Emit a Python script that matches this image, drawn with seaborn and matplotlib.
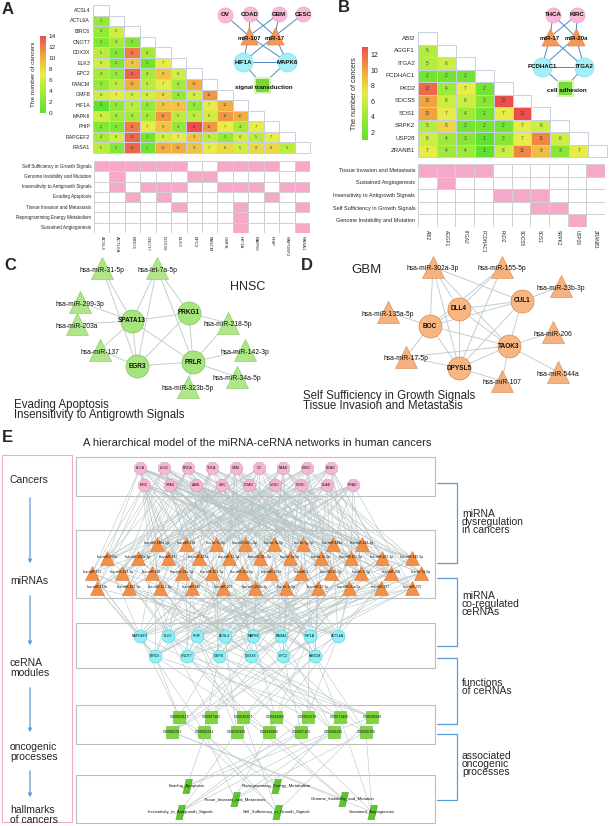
import numpy as np
import pandas as pd
import matplotlib
matplotlib.use("Agg")
import matplotlib.pyplot as plt
import seaborn as sns
from matplotlib.colors import LinearSegmentedColormap, ListedColormap
from matplotlib.patches import Rectangle, FancyArrowPatch
from matplotlib.collections import LineCollection

sns.set_theme(style="white")
plt.rcParams["font.family"] = ["Liberation Sans", "DejaVu Sans"]

W, H = 610, 826

# ---------------- data: panel A ----------------
genes_a = ["ACSL4", "ACTL6A", "BIRC6", "CNOT7", "DDX3X", "ELK3", "EPC2",
           "FANCM", "GMFB", "HIF1A", "MAPK6", "PHIP", "RAPGEF2", "RASA1"]
counts_a = [
    [],
    [3],
    [3, 6],
    [2, 4, 2],
    [5, 2, 12, 4],
    [6, 2, 9, 1, 7],
    [4, 3, 13, 4, 9, 6],
    [3, 5, 10, 5, 7, 4, 10],
    [6, 7, 6, 6, 8, 3, 6, 11],
    [0, 3, 5, 3, 9, 9, 3, 7, 10],
    [6, 4, 4, 4, 11, 5, 5, 6, 11, 10],
    [2, 2, 12, 7, 9, 3, 14, 11, 7, 4, 7],
    [4, 6, 13, 1, 6, 7, 9, 5, 3, 6, 5, 7],
    [5, 2, 13, 1, 10, 10, 9, 7, 8, 6, 8, 8, 5],
]
hallmarks_a = ["Self Sufficiency in Growth Signals", "Genome Instability and Mutation",
               "Insensitivity to Antigrowth Signals", "Evading Apoptosis",
               "Tissue Invasion and Metastasis", "Reprogramming Energy Metabolism",
               "Sustained Angiogenesis"]
hallmark_genes_a = [
    ["ACSL4", "ACTL6A", "BIRC6", "CNOT7", "DDX3X", "ELK3", "GMFB", "HIF1A", "MAPK6", "PHIP", "RASA1"],
    ["ACTL6A", "EPC2", "FANCM"],
    ["ACTL6A", "CNOT7", "DDX3X", "ELK3", "GMFB", "HIF1A", "MAPK6", "RAPGEF2", "RASA1"],
    ["BIRC6", "DDX3X", "PHIP"],
    ["ELK3", "HIF1A", "RASA1"],
    ["HIF1A"],
    ["HIF1A", "RASA1"],
]

# ---------------- data: panel B ----------------
genes_b = ["ABI2", "AGGF1", "ITGA2", "PCDHAC1", "PKD2", "SOCS5", "SOS1", "SRPK2", "USP28", "ZRANB1"]
counts_b = [
    [],
    [5],
    [5, 6],
    [2, 2, 2],
    [12, 4, 7, 2],
    [10, 6, 6, 3, 13],
    [10, 7, 4, 2, 7, 13],
    [5, 8, 2, 2, 2, 7, 6],
    [6, 4, 3, 1, 3, 7, 11, 6],
    [7, 4, 4, 1, 6, 11, 9, 3, 7],
]
hallmarks_b = ["Tissue Invasion and Metastasis", "Sustained Angiogenesis",
               "Insensitivity to Antigrowth Signals", "Self Sufficiency in Growth Signals",
               "Genome Instability and Mutation"]
hallmark_genes_b = [
    ["ABI2", "AGGF1", "ITGA2", "PCDHAC1", "ZRANB1"],
    ["AGGF1"],
    ["PKD2", "SOCS5", "SOS1"],
    ["SOS1", "SRPK2"],
    ["USP28"],
]

# ---------------- small module networks (insets of A and B) ----------------
inset_a_cancers = ["OV", "COAD", "GBM", "CESC"]
inset_a_mirs = ["miR-107", "miR-17"]
inset_a_genes = ["HIF1A", "MAPK6"]
inset_a_proc = ["signal transduction"]
inset_a_edges = [("OV", "miR-107"), ("COAD", "miR-107"), ("COAD", "miR-17"), ("GBM", "miR-107"),
                 ("GBM", "miR-17"), ("CESC", "miR-17"), ("miR-107", "HIF1A"), ("miR-107", "MAPK6"),
                 ("miR-17", "HIF1A"), ("miR-17", "MAPK6"), ("HIF1A", "MAPK6"),
                 ("HIF1A", "signal transduction"), ("MAPK6", "signal transduction")]

inset_b_cancers = ["THCA", "KIRC"]
inset_b_mirs = ["miR-17", "miR-20a"]
inset_b_genes = ["PCDHAC1", "ITGA2"]
inset_b_proc = ["cell adhesion"]
inset_b_edges = [("THCA", "miR-17"), ("THCA", "miR-20a"), ("KIRC", "miR-17"), ("KIRC", "miR-20a"),
                 ("miR-17", "PCDHAC1"), ("miR-17", "ITGA2"), ("miR-20a", "PCDHAC1"),
                 ("miR-20a", "ITGA2"), ("PCDHAC1", "ITGA2"), ("PCDHAC1", "cell adhesion"),
                 ("ITGA2", "cell adhesion")]

# ---------------- panel C (HNSC) ----------------
c_genes = ["SPATA13", "PRKG1", "EGR3", "PRLR"]
c_mirs = ["hsa-miR-31-5p", "hsa-let-7a-5p", "hsa-miR-299-3p", "hsa-miR-203a", "hsa-miR-137",
          "hsa-miR-218-5p", "hsa-miR-142-3p", "hsa-miR-34a-5p", "hsa-miR-323b-5p"]
c_edges = [("hsa-miR-31-5p", "SPATA13"), ("hsa-miR-31-5p", "EGR3"), ("hsa-let-7a-5p", "SPATA13"),
           ("hsa-let-7a-5p", "PRKG1"), ("hsa-let-7a-5p", "EGR3"), ("hsa-let-7a-5p", "PRLR"),
           ("hsa-miR-299-3p", "SPATA13"), ("hsa-miR-203a", "SPATA13"), ("hsa-miR-137", "SPATA13"),
           ("hsa-miR-137", "EGR3"), ("hsa-miR-218-5p", "PRKG1"), ("hsa-miR-218-5p", "PRLR"),
           ("hsa-miR-142-3p", "PRLR"), ("hsa-miR-34a-5p", "PRLR"), ("hsa-miR-323b-5p", "PRLR"),
           ("SPATA13", "PRKG1"), ("SPATA13", "EGR3"), ("SPATA13", "PRLR"), ("EGR3", "PRLR"),
           ("EGR3", "PRKG1"), ("PRKG1", "PRLR")]

# ---------------- panel D (GBM) ----------------
d_genes = ["CUL1", "DLL4", "BOC", "TAOK3", "DPYSL5"]
d_mirs = ["hsa-miR-302a-3p", "hsa-miR-155-5p", "hsa-miR-23b-3p", "hsa-miR-135a-5p",
          "hsa-miR-206", "hsa-miR-17-5p", "hsa-miR-544a", "hsa-miR-107"]
d_edges = [("hsa-miR-302a-3p", "BOC"), ("hsa-miR-302a-3p", "DLL4"), ("hsa-miR-302a-3p", "DPYSL5"),
           ("hsa-miR-302a-3p", "TAOK3"), ("hsa-miR-302a-3p", "CUL1"), ("hsa-miR-155-5p", "DLL4"),
           ("hsa-miR-155-5p", "DPYSL5"), ("hsa-miR-155-5p", "BOC"), ("hsa-miR-23b-3p", "CUL1"),
           ("hsa-miR-135a-5p", "BOC"), ("hsa-miR-206", "TAOK3"), ("hsa-miR-17-5p", "BOC"),
           ("hsa-miR-17-5p", "DPYSL5"), ("hsa-miR-17-5p", "TAOK3"), ("hsa-miR-544a", "TAOK3"),
           ("hsa-miR-107", "DPYSL5"), ("hsa-miR-107", "TAOK3"),
           ("CUL1", "DLL4"), ("CUL1", "BOC"), ("CUL1", "TAOK3"), ("CUL1", "DPYSL5"),
           ("DLL4", "TAOK3"), ("DLL4", "DPYSL5"), ("BOC", "TAOK3"), ("BOC", "DPYSL5"),
           ("TAOK3", "DPYSL5"), ("DLL4", "BOC")]

# ---------------- panel E (hierarchical model) ----------------
cancers_e_r1 = ["BLCA", "LUSC", "BRCA", "THCA", "GBM", "OV", "PAAD", "HNSC", "READ"]
cancers_e_r2 = ["KIRC", "STAD", "LAML", "LIHC", "COAD", "UCEC", "CESC", "LUAD", "PRAD"]
mirs_e_r1 = ["hsa-miR-146a-5p", "hsa-miR-184", "hsa-let-7c-5p", "hsa-miR-200c-3p",
             "hsa-let-7b-5p", "hsa-let-7g-5p", "hsa-miR-449a", "hsa-miR-143-3p"]
mirs_e_r2 = ["hsa-miR-320a", "hsa-miR-200a-3p", "hsa-miR-137", "hsa-miR-422a", "hsa-miR-21-5p",
             "hsa-miR-34c-5p", "hsa-let-7a-5p", "hsa-let-7e-5p", "hsa-miR-155-5p",
             "hsa-miR-222-3p", "hsa-miR-145-5p"]
mirs_e_r3 = ["hsa-miR-421", "hsa-miR-124-3p", "hsa-miR-429", "hsa-miR-34a-5p", "hsa-miR-101-3p",
             "hsa-miR-30a-5p", "hsa-miR-203a", "hsa-miR-1", "hsa-miR-31-5p", "hsa-let-7f-5p",
             "hsa-miR-206", "hsa-let-7d-5p"]
mirs_e_r4 = ["hsa-miR-133b", "hsa-miR-182-5p", "hsa-miR-221-3p", "hsa-miR-346", "hsa-miR-107",
             "hsa-miR-200b-3p", "hsa-let-7i-5p", "hsa-miR-17-5p", "hsa-miR-20a-5p",
             "hsa-miR-217", "hsa-miR-375"]
cernas_e_r1 = ["RAPGEF2", "ELK3", "PHIP", "ACSL4", "MAPK6", "RASA1", "HIF1A", "ACTL6A"]
cernas_e_r2 = ["BIRC6", "CNOT7", "GMFB", "DDX3X", "EPC2", "FANCM"]
go_e_r1 = ["GO0001837", "GO0007165", "GO0030307", "GO0042060", "GO0001570", "GO0071456", "GO0030949"]
go_e_r2 = ["GO0006281", "GO0008284", "GO0030308", "GO0043066", "GO0007162", "GO0008285", "GO0045766"]
hallmarks_e = ["Evading_Apoptosis", "Reprogramming_Energy_Metabolism",
               "Tissue_Invasion_and_Metastasis", "Genome_Instability_and_Mutation",
               "Insensitivity_to_Antigrowth_Signals", "Self_Sufficiency_in_Growth_Signals",
               "Sustained_Angiogenesis"]

# links (indices into the row lists concatenated)
mir_to_cancer = [
    [0, 2, 5, 9, 13, 16, 7, 11], [1, 3, 7, 10, 15, 0, 12], [0, 4, 6, 11, 14, 17, 2, 9],
    [2, 5, 8, 12, 16, 1, 10], [1, 3, 6, 9, 13, 4, 15], [0, 4, 7, 10, 17, 2, 12],
    [2, 5, 8, 11, 15, 0, 13], [3, 6, 9, 14, 16, 1, 8],
    [0, 1, 10, 12, 5, 16], [2, 4, 11, 13, 17, 8], [3, 5, 9, 15, 0, 12], [1, 6, 8, 12, 16, 3],
    [0, 4, 7, 14, 10, 17], [2, 5, 10, 13, 17, 7], [3, 6, 8, 11, 15, 1], [1, 7, 9, 14, 16, 4],
    [0, 5, 12, 17, 8, 11], [2, 4, 8, 10, 13, 6], [3, 7, 11, 15, 0, 9],
    [0, 9, 12, 16, 5], [1, 2, 10, 14, 7], [4, 6, 11, 17, 0], [0, 3, 9, 13, 15],
    [2, 5, 7, 12, 17], [1, 4, 8, 14, 16], [3, 6, 10, 17, 12], [0, 5, 9, 11, 15],
    [2, 7, 13, 16, 4], [1, 4, 6, 12, 17], [3, 8, 10, 14, 0], [0, 5, 11, 15, 16],
    [1, 9, 12, 14, 6], [2, 4, 10, 16, 8], [0, 3, 7, 13, 11], [5, 6, 11, 15, 17],
    [1, 4, 8, 9, 14], [2, 3, 12, 14, 16], [0, 6, 10, 15, 4], [4, 7, 11, 13, 17],
    [1, 5, 8, 12, 15], [3, 6, 9, 16, 0], [2, 7, 14, 17, 10],
]
cerna_to_mir = [
    [0, 3, 8, 12, 19, 22, 27, 31, 35, 40, 15], [1, 5, 9, 14, 20, 24, 29, 33, 37, 11],
    [2, 6, 10, 16, 21, 25, 30, 34, 38, 41, 18], [4, 7, 11, 15, 23, 26, 28, 32, 36, 39, 9],
    [0, 2, 13, 17, 19, 23, 27, 30, 35, 38, 6], [1, 4, 8, 18, 22, 26, 31, 34, 40, 12],
    [3, 5, 10, 12, 20, 25, 28, 33, 36, 41, 17], [6, 7, 9, 14, 21, 24, 29, 32, 37, 39, 0],
    [0, 4, 11, 16, 19, 22, 26, 31, 36, 7], [1, 3, 12, 15, 20, 25, 30, 34, 38, 41],
    [2, 5, 8, 17, 23, 27, 29, 33, 39, 14], [6, 9, 13, 18, 21, 24, 28, 32, 35, 40],
    [7, 10, 14, 16, 19, 26, 30, 37, 41, 3], [0, 5, 11, 15, 22, 25, 29, 35, 38, 13],
]
go_to_cerna = [[0, 3, 8], [1, 5, 12], [2, 6, 9, 13], [4, 7, 10], [0, 6, 11], [3, 8, 13],
               [1, 2, 9], [5, 7, 11, 12], [0, 4, 10], [2, 3, 13], [6, 8, 9], [1, 7, 12],
               [4, 5, 11], [10, 12, 13]]
hall_to_go = [[1, 6, 11], [0, 5, 9], [3, 8, 12, 13], [2, 7, 10], [4, 9, 11, 12],
              [0, 2, 6, 8], [3, 5, 7, 13]]

# ---------------- layout (pixel coordinates of network nodes) ----------------
pos_inset_a = {"OV": (225, 15), "COAD": (250, 14), "GBM": (279, 14), "CESC": (303, 14),
               "miR-107": (249, 36), "miR-17": (275, 36), "HIF1A": (243, 62),
               "MAPK6": (287, 62), "signal transduction": (262, 85)}
pos_inset_b = {"THCA": (553, 15), "KIRC": (577, 15), "miR-17": (550, 37), "miR-20a": (576, 37),
               "PCDHAC1": (542, 67), "ITGA2": (584, 67), "cell adhesion": (565, 88)}
pos_c = {"SPATA13": (132, 321), "PRKG1": (189, 313), "EGR3": (137, 366), "PRLR": (193, 362),
         "hsa-miR-31-5p": (102, 268), "hsa-let-7a-5p": (157, 268), "hsa-miR-299-3p": (80, 302),
         "hsa-miR-203a": (77, 324), "hsa-miR-137": (100, 350), "hsa-miR-218-5p": (228, 323),
         "hsa-miR-142-3p": (245, 350), "hsa-miR-34a-5p": (237, 377),
         "hsa-miR-323b-5p": (188, 387)}
pos_d = {"CUL1": (522, 301), "DLL4": (459, 309), "BOC": (430, 326), "TAOK3": (509, 346),
         "DPYSL5": (459, 368), "hsa-miR-302a-3p": (433, 267), "hsa-miR-155-5p": (502, 267),
         "hsa-miR-23b-3p": (561, 286), "hsa-miR-135a-5p": (388, 312), "hsa-miR-206": (553, 332),
         "hsa-miR-17-5p": (406, 357), "hsa-miR-544a": (558, 372), "hsa-miR-107": (502, 381)}
pos_hall_e = [(187, 786), (276, 786), (235, 799), (343, 799), (180, 812), (277, 812), (372, 812)]


def rect(x0, y0, x1, y1):
    return [x0 / W, 1 - y1 / H, (x1 - x0) / W, (y1 - y0) / H]


def s_px(d):
    return (d * 0.72) ** 2


fig = plt.figure(figsize=(W / 100, H / 100), dpi=100)
fig.patch.set_facecolor("white")
ax0 = fig.add_axes([0, 0, 1, 1])
ax0.set_xlim(0, W)
ax0.set_ylim(H, 0)
ax0.axis("off")

cmap = LinearSegmentedColormap.from_list(
    "cnt", [(0, "#5fe22e"), (0.3, "#a9eb3c"), (0.5, "#e6ee48"), (0.72, "#f2ad3f"), (1, "#ee4d4d")])
pink = ListedColormap(["white", "#f6a8c9"])
grid_c = "#c7d0dc"


def tri_heatmap(genes, tri, r, cr, vmin, vmax, ticks, fs_lab, fs_num, fs_cb):
    n = len(genes)
    m = np.full((n, n), np.nan)
    for i, row in enumerate(tri):
        m[i, :len(row)] = row
    df = pd.DataFrame(m, index=genes, columns=genes)
    ax = fig.add_axes(r)
    ax.patch.set_alpha(0)
    cax = fig.add_axes(cr)
    sns.heatmap(df, ax=ax, cmap=cmap, vmin=vmin, vmax=vmax, annot=True, fmt=".0f",
                annot_kws={"fontsize": fs_num, "color": "#4a4a4a"}, linewidths=0,
                cbar_ax=cax, xticklabels=False, yticklabels=True)
    # cell borders only for the lower triangle and the empty diagonal
    for i in range(n):
        for j in range(i + 1):
            ax.add_patch(Rectangle((j, i), 1, 1, facecolor="white" if i == j else "none",
                                   edgecolor=grid_c, lw=0.7, clip_on=False))
    ax.set_yticklabels(genes, rotation=0, fontsize=fs_lab)
    ax.tick_params(length=0, pad=2)
    ax.set_xlabel("")
    ax.set_ylabel("")
    cb = ax.collections[0].colorbar
    cb.outline.set_visible(False)
    cb.set_ticks(list(ticks))
    cax.tick_params(labelsize=fs_cb, length=0, pad=2)
    cax.yaxis.set_label_position("left")
    cax.set_ylabel("The number of cancers", fontsize=fs_cb, labelpad=3)
    return ax


def hallmark_matrix(genes, names, members, r, fs_y, fs_x):
    m = np.array([[1 if g in mem else 0 for g in genes] for mem in members])
    df = pd.DataFrame(m, index=names, columns=genes)
    ax = fig.add_axes(r)
    sns.heatmap(df, ax=ax, cmap=pink, vmin=0, vmax=1, cbar=False, linewidths=0.6,
                linecolor="#d0d0d0", xticklabels=True, yticklabels=True)
    ax.set_yticklabels(names, rotation=0, fontsize=fs_y)
    ax.set_xticklabels(genes, rotation=270, fontsize=fs_x)
    ax.tick_params(length=0, pad=2)
    ax.set_xlabel("")
    ax.set_ylabel("")
    return ax


tri_heatmap(genes_a, counts_a, rect(93, 5, 310, 153), rect(40, 36, 46, 113), 0, 14,
            range(0, 15, 2), 3.8, 3.0, 4.6)
hallmark_matrix(genes_a, hallmarks_a, hallmark_genes_a, rect(94, 161, 310, 233), 3.3, 3.2)
tri_heatmap(genes_b, counts_b, rect(418, 32, 607, 157), rect(362, 47, 368, 140), 1, 13,
            range(2, 13, 2), 4.4, 3.4, 5.0)
hallmark_matrix(genes_b, hallmarks_b, hallmark_genes_b, rect(418, 164, 605, 227), 4.0, 3.4)


def draw_edges(pos, edges, color, lw, z=2):
    segs = [[pos[a], pos[b]] for a, b in edges]
    ax0.add_collection(LineCollection(segs, colors=color, linewidths=lw, zorder=z))


def draw_nodes(pos, names, size, marker, fc, ec, fs, weight="normal", dy=0, z=3):
    xs = [pos[n][0] for n in names]
    ys = [pos[n][1] for n in names]
    ax0.scatter(xs, ys, s=s_px(size), marker=marker, c=fc, edgecolors=ec, linewidths=0.5,
                zorder=z)
    for n, x, y in zip(names, xs, ys):
        ax0.text(x, y + dy, n, fontsize=fs, fontweight=weight, ha="center", va="center",
                 zorder=z + 1, color="#111111")


# ---- insets ----
for pos, edges, can, mirs, gen, proc in [
        (pos_inset_a, inset_a_edges, inset_a_cancers, inset_a_mirs, inset_a_genes, inset_a_proc),
        (pos_inset_b, inset_b_edges, inset_b_cancers, inset_b_mirs, inset_b_genes, inset_b_proc)]:
    draw_edges(pos, edges, "#4f86c6", 0.7)
    draw_nodes(pos, can, 15, "o", "#f7b9d6", "#f0a0c6", 4.4, "bold")
    draw_nodes(pos, mirs, 17, "^", "#f4985a", "#ee8440", 4.3, "bold", dy=2)
    draw_nodes(pos, gen, 19, "o", "#a4f0f6", "#7ddfeb", 4.4, "bold")
    px, py = pos[proc[0]]
    ax0.scatter([px], [py], s=s_px(17), marker="s", c="#d8f5b0", edgecolors="none", zorder=3)
    ax0.scatter([px], [py], s=s_px(12), marker="s", c="#7ad83a", edgecolors="#66c22a",
                linewidths=0.5, zorder=3)
    ax0.text(px + 2, py + 2, proc[0], fontsize=4.5, fontweight="bold", ha="center",
             va="center", zorder=4, color="#111111")

# ---- panel C ----
draw_edges(pos_c, c_edges, "#c3ced2", 0.7)
draw_nodes(pos_c, c_mirs, 22, "^", "#b0e68a", "#93cf6a", 4.9, dy=2)
draw_nodes(pos_c, c_genes, 23, "o", "#a6e57e", "#7fc457", 4.7, "bold")
ax0.text(248, 287, "HNSC", fontsize=9, ha="center", va="center")
ax0.text(14, 410, "Evading Apoptosis\nInsensitivity to Antigrowth Signals", fontsize=8.3,
         ha="left", va="center", linespacing=0.85)

# ---- panel D ----
draw_edges(pos_d, d_edges, "#c3ced2", 0.7)
draw_nodes(pos_d, d_mirs, 22, "^", "#f6b27e", "#e0955e", 4.9, dy=2)
draw_nodes(pos_d, d_genes, 23, "o", "#f8b682", "#d9874c", 4.7, "bold")
ax0.text(367, 270, "GBM", fontsize=9.5, ha="center", va="center")
ax0.text(303, 401, "Self Sufficiency in Growth Signals\nTissue Invasion and Metastasis",
         fontsize=8.3, ha="left", va="center", linespacing=0.85)


# ---- panel E ----
def row_pos(names, x0, x1, y):
    return [(x, y) for x in np.linspace(x0, x1, len(names))]


can_xy = row_pos(cancers_e_r1, 140, 331, 468) + row_pos(cancers_e_r2, 144, 353, 485)
mir_xy = (row_pos(mirs_e_r1, 157, 362, 544) + row_pos(mirs_e_r2, 107, 412, 558)
          + row_pos(mirs_e_r3, 92, 421, 573) + row_pos(mirs_e_r4, 97, 412, 588))
cer_xy = row_pos(cernas_e_r1, 140, 338, 636) + row_pos(cernas_e_r2, 155, 315, 656)
go_xy = row_pos(go_e_r1, 179, 372, 717) + row_pos(go_e_r2, 172, 366, 732)
hall_xy = list(pos_hall_e)

segs = []
for i, lst in enumerate(mir_to_cancer):
    segs += [[mir_xy[i], can_xy[j]] for j in lst]
for i, lst in enumerate(cerna_to_mir):
    segs += [[cer_xy[i], mir_xy[j]] for j in lst]
for i, lst in enumerate(go_to_cerna):
    segs += [[go_xy[i], cer_xy[j]] for j in lst]
for i, lst in enumerate(hall_to_go):
    segs += [[hall_xy[i], go_xy[j]] for j in lst]
ax0.add_collection(LineCollection(segs, colors="#b8c5c5", linewidths=0.4, zorder=1))

for y0, y1 in [(457, 496), (530, 598), (623, 668), (705, 744), (775, 823)]:
    ax0.add_patch(Rectangle((76, y0), 359, y1 - y0, fill=False, edgecolor="#bdbdbd", lw=0.8,
                            zorder=2))


def e_nodes(names, xy, size, marker, fc, ec, fs, dy=0):
    xs = [p[0] for p in xy]
    ys = [p[1] for p in xy]
    ax0.scatter(xs, ys, s=s_px(size), marker=marker, c=fc, edgecolors=ec, linewidths=0.4,
                zorder=3)
    for n, x, y in zip(names, xs, ys):
        ax0.text(x, y + dy, n, fontsize=fs, ha="center", va="center", zorder=4,
                 color="#111111")


e_nodes(cancers_e_r1 + cancers_e_r2, can_xy, 13, "8", "#f5b6d4", "#dc92b8", 2.5)
e_nodes(mirs_e_r1 + mirs_e_r2 + mirs_e_r3 + mirs_e_r4, mir_xy, 14, "^", "#f29048", "#e2742a",
        2.4, dy=-1)
e_nodes(cernas_e_r1 + cernas_e_r2, cer_xy, 13, "o", "#8df0f4", "#55ccdd", 2.5)
e_nodes(go_e_r1 + go_e_r2, go_xy, 12, "s", "#7dd63c", "#5cb82a", 2.5, dy=0)
para = [(-0.7, -1), (0.25, -1), (0.7, 1), (-0.25, 1)]
ax0.scatter([p[0] for p in hall_xy], [p[1] for p in hall_xy], s=s_px(14), marker=para,
            c="#5cc42e", edgecolors="#3e9e20", linewidths=0.4, zorder=3)
for n, (x, y) in zip(hallmarks_e, pos_hall_e):
    ax0.text(x, y, n, fontsize=3.1, ha="center", va="center", zorder=4, color="#111111")

# left labels and arrows
ax0.add_patch(Rectangle((2, 455), 70, 367, fill=False, edgecolor="#f2a8c8", lw=0.8))
for y, t in [(480, "Cancers"), (581, "miRNAs"), (668, "ceRNA\nmodules"),
             (752, "oncogenic\nprocesses"), (815, "hallmarks\nof cancers")]:
    ax0.text(10, y, t, fontsize=7.5, ha="left", va="center", linespacing=0.95)
for y0, y1 in [(495, 566), (593, 648), (685, 735), (768, 800)]:
    ax0.add_patch(FancyArrowPatch((30, y0), (30, y1), arrowstyle="-|>", mutation_scale=5,
                                  color="#5b9bd8", lw=0.9))

# right brackets
for (y0, y1), t, ty in [((483, 563), "miRNA\ndysregulation\nin cancers", 522),
                        ((578, 646), "miRNA\nco-regulated\nceRNAs", 604),
                        ((658, 724), "functions\nof ceRNAs", 687),
                        ((734, 800), "associated\noncogenic\nprocesses", 764)]:
    ax0.plot([437, 457, 457, 437], [y0, y0, y1, y1], color="#5b9bd8", lw=0.9)
    ax0.text(462, ty, t, fontsize=7.5, ha="left", va="center", linespacing=0.8)

ax0.text(257, 443, "A hierarchical model of the miRNA-ceRNA networks in human cancers",
         fontsize=8, ha="center", va="center")

# panel letters
for x, y, l in [(2, 9, "A"), (338, 8, "B"), (4, 265, "C"), (301, 265, "D"), (2, 438, "E")]:
    ax0.text(x, y, l, fontsize=12, fontweight="bold", ha="left", va="center")

fig.savefig("out.png", dpi=100)
